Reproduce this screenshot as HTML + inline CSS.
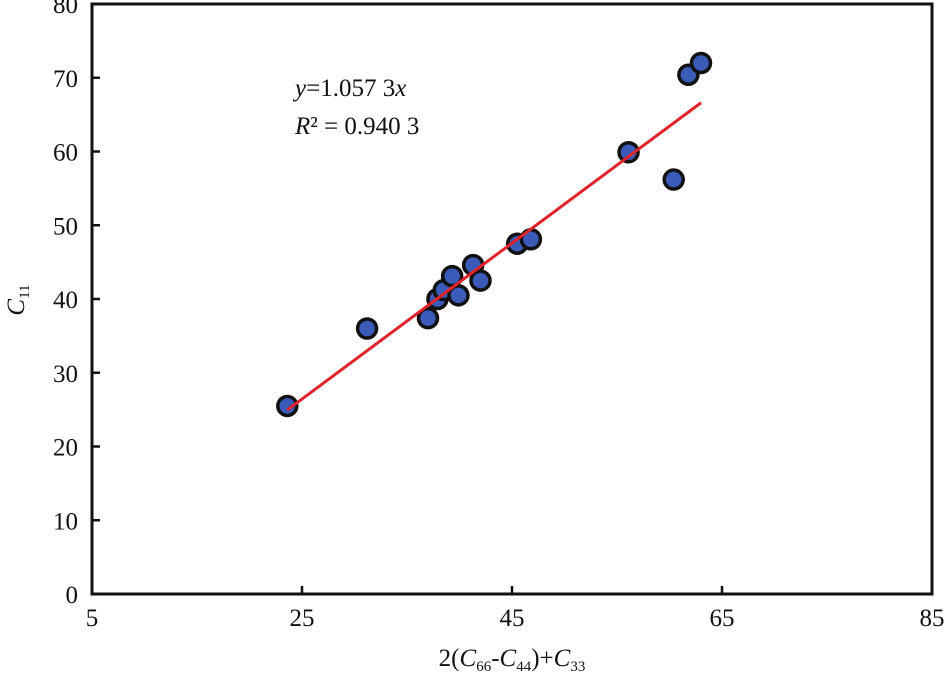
<!DOCTYPE html>
<html><head><meta charset="utf-8"><style>
body{margin:0;background:#fff;}
svg text{font-family:"Liberation Serif",serif;fill:#111;}
</style></head><body>
<svg width="945" height="671" xmlns="http://www.w3.org/2000/svg">
<rect x="92" y="4" width="840" height="590" fill="none" stroke="#111" stroke-width="3"/>
<g id="ticks"></g>
<g id="points"></g>
<g id="fit"></g>
<text x="295" y="96" font-size="25"><tspan font-style="italic">y</tspan>=1.057 3<tspan font-style="italic">x</tspan></text>
<text x="295" y="134" font-size="25"><tspan font-style="italic">R</tspan>² = 0.940 3</text>
<text x="512" y="666" font-size="25" text-anchor="middle">2(<tspan font-style="italic">C</tspan><tspan font-size="15" dy="5">66</tspan><tspan dy="-5">-</tspan><tspan font-style="italic">C</tspan><tspan font-size="15" dy="5">44</tspan><tspan dy="-5">)+</tspan><tspan font-style="italic">C</tspan><tspan font-size="15" dy="5">33</tspan></text>
<text transform="translate(24,300) rotate(-90)" font-size="25" text-anchor="middle"><tspan font-style="italic">C</tspan><tspan font-size="15" dy="5">11</tspan></text>
</svg>
<script>
const xTicks=[5,25,45,65,85];
const yTicks=[0,10,20,30,40,50,60,70,80];
const xVals=[23.6,31.2,37.0,37.9,38.5,39.3,39.9,41.3,42.0,45.5,46.8,56.1,60.4,61.8,63.0];
const yVals=[25.5,36.0,37.4,40.0,41.2,43.1,40.5,44.6,42.5,47.5,48.1,59.9,56.2,70.4,72.0];
const slope=[1.0573];
const fitRange=[23.6,63.0];
const NS="http://www.w3.org/2000/svg";
const X=v=>92+(v-5)*10.5, Y=v=>594-v*7.375;
function mk(t,a,p){const e=document.createElementNS(NS,t);for(const k in a)e.setAttribute(k,a[k]);p.appendChild(e);return e;}
const tg=document.getElementById('ticks');
xTicks.forEach(v=>{
 const l=mk('line',{x1:X(v),x2:X(v),y1:594,y2:586,stroke:'#111','stroke-width':2.5},tg);
 
 
 const t=mk('text',{x:X(v),y:626,'font-size':25,'text-anchor':'middle'},tg);t.textContent=v;
 
 
});
yTicks.forEach(v=>{
 const l=mk('line',{x1:92,x2:100,y1:Y(v),y2:Y(v),stroke:'#111','stroke-width':2.5},tg);
 
 
 const t=mk('text',{x:78,y:Y(v)+9,'font-size':25,'text-anchor':'end'},tg);t.textContent=v;
 
 
});
const pg=document.getElementById('points');
xVals.forEach((x,i)=>{
 const c=mk('circle',{cx:X(x),cy:Y(yVals[i]),r:9.5,fill:'#3a5bb8',stroke:'#111','stroke-width':3.5},pg);
 
 
});
const fl=mk('line',{x1:X(fitRange[0]),y1:Y(fitRange[0]*slope[0]),x2:X(fitRange[1]),y2:Y(fitRange[1]*slope[0]),stroke:'#e0232b','stroke-width':3},document.getElementById('fit'));


</script>
</body></html>
